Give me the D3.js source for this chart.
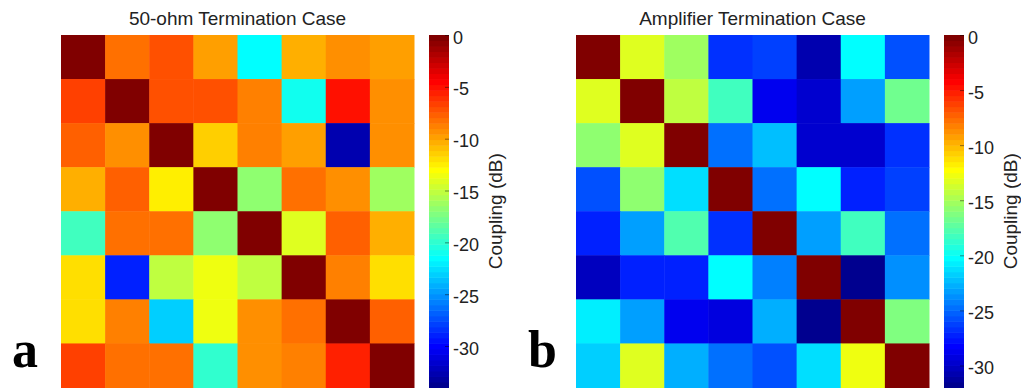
<!DOCTYPE html>
<html>
<head>
<meta charset="utf-8">
<script src="https://cdn.jsdelivr.net/npm/d3@7"></script>
<style>
  html, body { margin: 0; padding: 0; background: #fff; }
  svg { display: block; }
</style>
</head>
<body>
<div class="container"></div>
<script>
const WIDTH = 1021
const HEIGHT = 390

// cell values in dB, row by row (top to bottom), column by column (left to right)
const ohm50Values = [
  [0, -8, -7.1, -9.8, -21.6, -10.6, -9.35, -9.6],
  [-6.9, 0, -7.2, -7.2, -8.9, -21, -5.1, -9.15],
  [-7.8, -9.35, 0, -11.3, -8.9, -9.6, -32.9, -9.15],
  [-10.1, -7.6, -12.75, 0, -17, -8, -9.35, -16],
  [-19.5, -8.4, -8.4, -16.5, 0, -14.3, -7.8, -10.5],
  [-11.9, -28.7, -14.9, -13.6, -15.4, 0, -8.9, -11.9],
  [-12, -8.7, -23, -13.6, -9.15, -8.4, 0, -7.8],
  [-6.6, -8.4, -8, -19.7, -9.35, -8.9, -5.6, 0]
]

const ampValues = [
  [0, -13.4, -15.5, -27, -26.5, -30.7, -20.5, -25.6],
  [-13.4, 0, -14.5, -18.5, -29, -30, -23.5, -16.7],
  [-16, -13.4, 0, -25, -22.5, -29.8, -30, -27],
  [-25.6, -15.6, -21.4, 0, -25, -20.5, -27.3, -26.5],
  [-27.5, -23.5, -18, -27, 0, -23.5, -18.5, -25],
  [-30.5, -27.5, -27.5, -20.5, -24.5, 0, -32, -24],
  [-21, -23.5, -29, -29.2, -23, -31.7, 0, -16.2],
  [-22, -13.4, -23, -25, -25.6, -21.4, -13, 0]
]

const ohm50Range = [-34, 0]
const ampRange = [-32, 0]

const colorbarTicks = [0, -5, -10, -15, -20, -25, -30]
const titles = ['50-ohm Termination Case', 'Amplifier Termination Case']
const panelLetters = ['a', 'b']
const colorbarLabel = 'Coupling (dB)'

// MATLAB jet(64)
const jet = (m) => {
  const n = Math.ceil(m / 4)
  const u = []
  for (let i = 1; i <= n; i++) u.push(i / n)
  for (let i = 0; i < n - 1; i++) u.push(1)
  for (let i = n; i >= 1; i--) u.push(i / n)
  const gStart = Math.ceil(n / 2) - (m % 4 === 1 ? 1 : 0)
  const cols = d3.range(m).map(() => [0, 0, 0])
  u.forEach((val, k) => {
    const g = gStart + k, r = g + n, b = g - n
    if (g < m) cols[g][1] = val
    if (r < m) cols[r][0] = val
    if (b >= 0) cols[b][2] = val
  })
  return cols.map(c => d3.rgb(c[0] * 255, c[1] * 255, c[2] * 255).formatHex())
}
const JET = jet(64)

const FONT = "'Liberation Sans', Arial, Helvetica, sans-serif"

const svg = d3.select('.container').append('svg')
  .attr('xmlns', 'http://www.w3.org/2000/svg')
  .attr('width', WIDTH)
  .attr('height', HEIGHT)
  .attr('viewBox', `0 0 ${WIDTH} ${HEIGHT}`)

const panels = [
  { values: ohm50Values, range: ohm50Range, x0: 61, x1: 414, cbX: 429, labelX: 495, letterX: 12 },
  { values: ampValues, range: ampRange, x0: 576, x1: 929, cbX: 944, labelX: 1010, letterX: 528 }
]

const TOP = 35
const BOTTOM = 387.5
const CB_W = 20

panels.forEach((p, pi) => {
  const g = svg.append('g')
  const idx = d3.range(8)

  const x = d3.scaleBand().domain(idx).range([p.x0, p.x1])
  const y = d3.scaleBand().domain(idx).range([TOP, BOTTOM])
  const color = d3.scaleQuantize().domain(p.range).range(JET)

  const cells = p.values.flatMap((row, r) => row.map((v, c) => ({ r, c, v })))

  // heatmap cells
  g.append('g')
    .selectAll('rect')
    .data(cells)
    .join('rect')
    .attr('x', d => x(d.c))
    .attr('y', d => y(d.r))
    .attr('width', x.bandwidth() + 0.5)
    .attr('height', y.bandwidth() + 0.5)
    .attr('fill', d => color(d.v))

  // title
  g.append('text')
    .attr('x', (p.x0 + p.x1) / 2)
    .attr('y', 25)
    .attr('text-anchor', 'middle')
    .attr('font-family', FONT)
    .attr('font-size', 19)
    .attr('fill', '#222')
    .text(titles[pi])

  // colorbar
  const cy = d3.scaleLinear().domain(p.range).range([BOTTOM, TOP])
  const step = (p.range[1] - p.range[0]) / JET.length
  g.append('g')
    .selectAll('rect')
    .data(JET)
    .join('rect')
    .attr('x', p.cbX)
    .attr('y', (d, i) => cy(p.range[0] + (i + 1) * step))
    .attr('width', CB_W)
    .attr('height', (d, i) => cy(p.range[0] + i * step) - cy(p.range[0] + (i + 1) * step) + 0.5)
    .attr('fill', d => d)

  const axis = d3.axisRight(cy)
    .tickValues(colorbarTicks)
    .tickSize(0)
    .tickPadding(4)
    .tickFormat(d3.format('d'))

  const ax = g.append('g')
    .attr('transform', `translate(${p.cbX + CB_W},0)`)
    .call(axis)
  ax.select('.domain').remove()
  ax.selectAll('text')
    .attr('font-family', FONT)
    .attr('font-size', 18)
    .attr('fill', '#222')
    .attr('dy', '0.45em')
    .text(d => d === 0 ? '0' : `-${Math.abs(d)}`)
  // small inner tick marks
  ax.selectAll('.tick').append('line')
    .attr('x1', -4)
    .attr('x2', 0)
    .attr('stroke', '#000')
    .attr('stroke-opacity', 0.45)

  // colorbar label
  g.append('text')
    .attr('transform', `translate(${p.labelX},${(TOP + BOTTOM) / 2}) rotate(-90)`)
    .attr('text-anchor', 'middle')
    .attr('dominant-baseline', 'central')
    .attr('font-family', FONT)
    .attr('font-size', 19)
    .attr('fill', '#222')
    .text(colorbarLabel)

  // panel letter
  g.append('text')
    .attr('x', p.letterX)
    .attr('y', 367)
    .attr('font-family', "'Liberation Serif', 'Times New Roman', serif")
    .attr('font-weight', 'bold')
    .attr('font-size', 52)
    .attr('fill', '#000')
    .text(panelLetters[pi])
})
</script>
</body>
</html>
